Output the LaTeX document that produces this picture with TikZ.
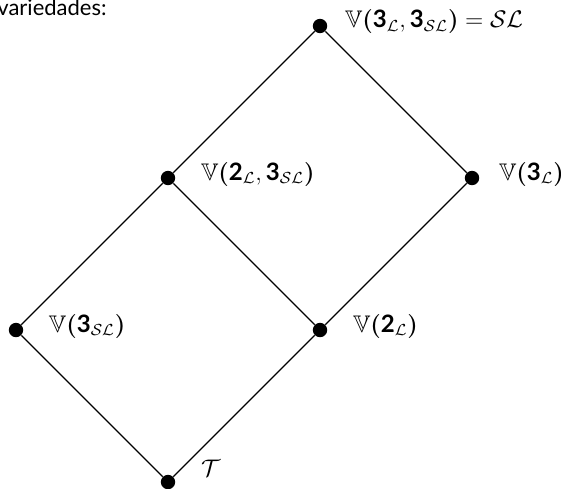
\documentclass[tikz,border=0pt]{standalone}
\usepackage{amsmath}
\usepackage{amssymb}
\usepackage{fontspec}
\setmainfont{Lato}
\usetikzlibrary{positioning}

\tikzset{
  dot/.style={circle, fill=black, inner sep=0pt, minimum size=7.2pt},
  lbl/.style={anchor=west, inner sep=0pt, yshift=2pt, font=\fontsize{12}{14}\selectfont},
}
\newcommand{\thr}{\textbf{3}}
\newcommand{\two}{\textbf{2}}
\newcommand{\lp}{\boldsymbol{(}}
\newcommand{\rp}{\boldsymbol{)}}

\begin{document}
\begin{tikzpicture}[x=76pt, y=76pt]
    \useasboundingbox (-84pt,-3pt) rectangle (196.5pt,241pt);
    % the lattice points
    \node[dot] (t) at (0,0) {};
    \node[dot] (vsl) at (-1,1) {};
    \node[dot] (vtwo) at (1,1) {};
    \node[dot] (vtwosl) at (0,2) {};
    \node[dot] (vl) at (2,2) {};
    \node[dot] (sl) at (1,3) {};
    % edges
    \draw[line width=0.6pt] (sl) -- (vtwosl);
    \draw[line width=0.6pt] (sl) -- (vl);
    \draw[line width=0.6pt] (vtwosl) -- (vtwo);
    \draw[line width=0.6pt] (vl) -- (vtwo);
    \draw[line width=0.6pt] (vtwosl) -- (vsl);
    \draw[line width=0.6pt] (vsl) -- (t);
    \draw[line width=0.6pt] (vtwo) -- (t);
    % labels
    \node[lbl, right=8.5pt of sl, anchor=west] (slt) {$\mathbb{V}\lp\thr_{\mathcal{L}}, \thr_{\mathcal{SL}}\rp = \mathcal{SL}$};
    \node[lbl, right=9.5pt of vl, anchor=west] (vlt) {$\mathbb{V}\lp\thr_{\mathcal{L}}\rp$};
    \node[lbl, right=12.5pt of vtwosl, anchor=west] (vtwoslt) {$\mathbb{V}\lp\two_{\mathcal{L}}, \thr_{\mathcal{SL}}\rp$};
    \node[lbl, right=12.5pt of vtwo, anchor=west] (vtwot) {$\mathbb{V}\lp\two_{\mathcal{L}}\rp$};
    \node[lbl, right=12.5pt of vsl, anchor=west] (vslt) {$\mathbb{V}\lp\thr_{\mathcal{SL}}\rp$};
    \node[lbl, right=12.5pt of t, anchor=west, yshift=5pt] (tt) {$\mathcal{T}$};
    \node[anchor=base west, inner sep=0pt, font=\fontsize{11}{13}\selectfont] (head) at (-85.5pt,233pt) {variedades:};
\end{tikzpicture}
\end{document}
